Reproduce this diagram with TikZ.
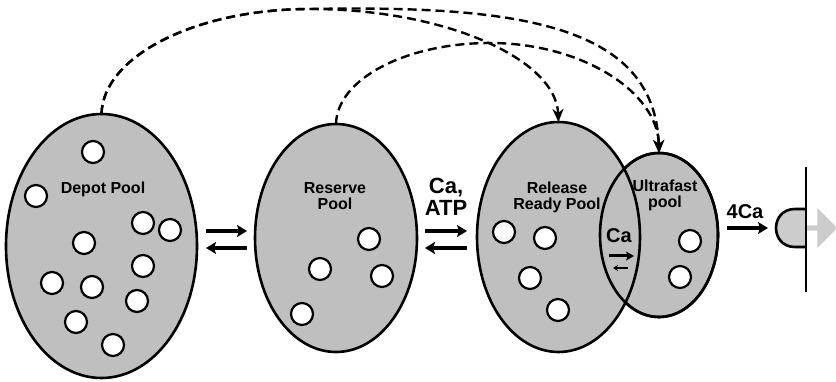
\documentclass[tikz,border=0pt]{standalone}
\usepackage{fontspec}
\setmainfont{Liberation Sans}
\usetikzlibrary{shapes.geometric,shapes.arrows,arrows.meta}

\begin{document}
\begin{tikzpicture}[x=1pt, y=-1pt, line width=2.6pt,
  pool/.style={ellipse, draw, fill=black!25, inner sep=0pt, outer sep=0pt},
  vesicle/.style={circle, draw, fill=white, line width=2.2pt, minimum size=22pt, inner sep=0pt},
  lbl/.style={font=\bfseries\fontsize{16}{16}\selectfont, align=center, inner sep=0pt},
  big/.style={font=\bfseries\fontsize{22}{22}\selectfont, align=center, inner sep=0pt},
  flow/.style={-{Stealth[length=10pt,width=12pt,inset=2pt]}, line width=4pt},
  recruit/.style={line width=2.4pt, dash pattern=on 9pt off 5pt, -{Stealth[length=13pt,width=11pt,inset=4pt]}}]
\useasboundingbox (0,0) rectangle (836,382);

% the four pools
\node[pool, minimum width=191pt, minimum height=264pt] (depot) at (101.5,246) {};
\node[pool, minimum width=162pt, minimum height=228pt] (reserve) at (336,238) {};
\node[pool, minimum width=118pt, minimum height=164pt] (ufp) at (659,235) {};
\node[pool, minimum width=163pt, minimum height=230pt] (rrp) at (558.5,237) {};
\draw (ufp.center) ellipse [x radius=59pt, y radius=82pt];

\node[lbl] (depotname) at (103,189.5) {Depot Pool};
\node[lbl] (reservename) at (335,196) {Reserve\\Pool};
\node[lbl] (rrpname) at (557,197) {Release\\Ready Pool};
\node[lbl] (ufpname) at (665,195) {Ultrafast\\pool};

% vesicles
\foreach \x/\y [count=\i] in {93/152, 36/196, 143/223, 170/230, 84/243, 143/266, 52/283, 92/287, 137/301, 76/322, 113/345}
  \node[vesicle] (d\i) at (\x,\y) {};
\foreach \x/\y [count=\i] in {369/239, 320/269, 382/276, 302/314}
  \node[vesicle] (r\i) at (\x,\y) {};
\foreach \x/\y [count=\i] in {504/232, 545/238, 530/278, 558/310}
  \node[vesicle] (q\i) at (\x,\y) {};
\foreach \x/\y [count=\i] in {690/241, 680/277}
  \node[vesicle] (u\i) at (\x,\y) {};

% transfers between pools
\coordinate (dr1) at (206,231);
\coordinate (dr2) at (247,231);
\coordinate (dr3) at (247,248);
\coordinate (dr4) at (206,248);
\draw[flow] (dr1) -- (dr2);
\draw[flow] (dr3) -- (dr4);

\coordinate (rq1) at (425,231);
\coordinate (rq2) at (467,231);
\coordinate (rq3) at (467,248);
\coordinate (rq4) at (425,248);
\draw[flow] (rq1) -- (rq2);
\draw[flow] (rq3) -- (rq4);
\node[big] (caatp) at (446,196.5) {Ca,\\ATP};

\node[big, font=\bfseries\fontsize{20}{20}\selectfont] (lensca) at (619,236) {Ca};
\coordinate (l1) at (609,256);
\coordinate (l2) at (634,256);
\coordinate (l3) at (628,268);
\coordinate (l4) at (613,268);
\draw[-{Stealth[length=8pt,width=9pt,inset=2pt]}, line width=3pt] (l1) -- (l2);
\draw[-{Stealth[length=5pt,width=6pt]}, line width=1.5pt] (l3) -- (l4);

% fusion at the membrane
\node[big, font=\bfseries\fontsize{20}{20}\selectfont] (fourca) at (745,211.5) {4Ca};
\coordinate (f1) at (727,228);
\coordinate (f2) at (768,228);
\draw[flow] (f1) -- (f2);

\coordinate (omtop) at (806,209);
\coordinate (ombot) at (806,247);
\fill[black!20] (omtop) -- (795,209) .. controls (769.7,209) and (769.7,247) .. (795,247) -- (ombot) -- cycle;
\node[single arrow, fill=black!20, minimum height=46pt, minimum width=40pt,
  single arrow head extend=9pt, inner sep=0pt, anchor=west] (fusion) at (790,228) {};
\coordinate (memtop) at (806,167);
\coordinate (membot) at (806,292);
\draw (memtop) -- (membot);
\draw (omtop) -- (795,209) .. controls (769.7,209) and (769.7,247) .. (795,247) -- (ombot);

% recruitment routes
\coordinate (depotpeak) at (310,9);
\coordinate (reservepeak) at (490,43);
\draw[recruit] (depot.north) .. controls (103,56) and (196,9) .. (depotpeak)
  .. controls (445,9) and (556,59) .. (rrp.north);
\draw[recruit] (depot.north) .. controls (103,56) and (196,9) .. (depotpeak)
  .. controls (520,5) and (655,25) .. (ufp.north);
\draw[recruit] (reserve.north) .. controls (337,79) and (406,43) .. (reservepeak)
  .. controls (582,43) and (658,92) .. (ufp.north);
\end{tikzpicture}
\end{document}
